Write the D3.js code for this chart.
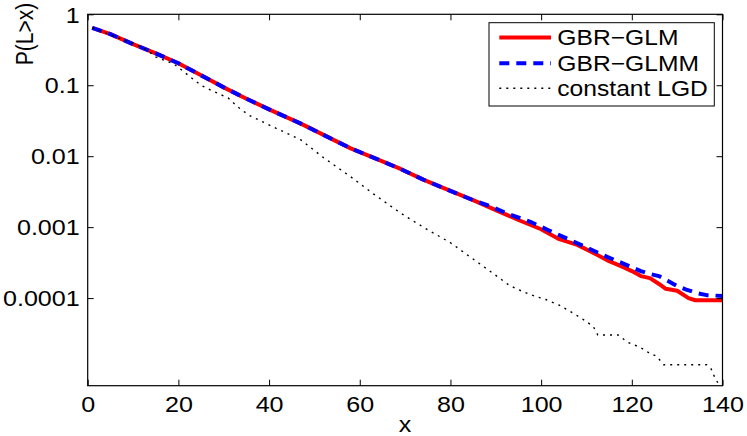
<!DOCTYPE html>
<html>
<head>
<meta charset="utf-8">
<script src="https://cdnjs.cloudflare.com/ajax/libs/d3/7.8.5/d3.min.js"></script>
<style>
  body { margin: 0; background: #fff; }
  text { font-family: "Liberation Sans", Arial, sans-serif; fill: #000; }
</style>
</head>
<body>
<script>
// Data (P(L>x) vs x)
var glmX = [1, 5, 10, 15, 20, 25, 30, 35, 40, 47, 52, 58, 63, 69, 74, 80, 85, 90, 95, 100,
            104, 108, 112, 115, 118, 120, 122, 124, 126, 127.5, 130, 132.5, 134, 140];
var glmP = [0.646, 0.525, 0.380, 0.282, 0.204, 0.138, 0.0933, 0.0646, 0.0457, 0.0288, 0.0200,
            0.0129, 0.00955, 0.00661, 0.00468, 0.00324, 0.00240, 0.00174, 0.00126, 0.000933,
            0.000676, 0.000562, 0.000417, 0.000331, 0.000275, 0.000240, 0.000204, 0.000191,
            0.000158, 0.000135, 0.000127, 0.000100, 0.0000933, 0.0000933];

var glmmX = [1, 5, 10, 15, 20, 25, 30, 35, 40, 47, 52, 58, 63, 69, 74, 80, 85, 89, 93, 97.5,
             101.5, 105.5, 109.5, 113.5, 118, 122, 124, 126, 128, 130, 132, 134.5, 136.5, 140];
var glmmP = [0.646, 0.525, 0.380, 0.282, 0.204, 0.138, 0.0933, 0.0646, 0.0457, 0.0288, 0.0200,
             0.0129, 0.00955, 0.00661, 0.00468, 0.00324, 0.00240, 0.00195, 0.00151, 0.00120,
             0.000912, 0.000700, 0.000537, 0.000407, 0.000309, 0.000240, 0.000219, 0.000204,
             0.000174, 0.000148, 0.000132, 0.000117, 0.000110, 0.000107];

var constX = [1, 5, 10, 13, 15, 19, 22, 25, 27.5, 31, 33, 35.5, 41, 47, 52, 58, 63, 69, 74, 80,
              85, 90, 93, 96, 98.5, 101, 104, 107, 109.5, 111.5, 112.5, 117, 119, 122, 124,
              125.5, 127, 136.5, 137.5, 138.5, 139.3];
var constP = [0.646, 0.513, 0.389, 0.316, 0.251, 0.200, 0.141, 0.100, 0.0832, 0.0661, 0.0501,
              0.0380, 0.0257, 0.0170, 0.00955, 0.00513, 0.00295, 0.00158, 0.00100, 0.000603,
              0.000355, 0.000209, 0.000151, 0.000123, 0.000107, 0.0000955, 0.0000794,
              0.0000617, 0.0000490, 0.0000398, 0.0000302, 0.0000302, 0.0000240, 0.0000200,
              0.0000166, 0.0000151, 0.0000115, 0.0000115, 0.0000100, 0.00000708, 0.00000603];

var xTicks = [0, 20, 40, 60, 80, 100, 120, 140];
var yTicks = [1, 0.1, 0.01, 0.001, 0.0001];
var yTickLabels = ['1', '0.1', '0.01', '0.001', '0.0001'];
var seriesNames = ['GBR\u2212GLM', 'GBR\u2212GLMM', 'constant LGD'];

// Layout
var margin = {top: 14.3, right: 24.5, bottom: 50.3, left: 87.7},
    W = 747, H = 436,
    width = W - margin.left - margin.right,
    height = H - margin.top - margin.bottom,
    textScale = 1.14,
    fontSize = 22;

var svg = d3.select('body').append('svg')
    .attr('width', W)
    .attr('height', H);

var wrap = svg.append('g')
    .attr('transform', 'translate(' + margin.left + ',' + margin.top + ')');

var x = d3.scaleLinear().domain([0, 140]).range([0, width]);
var y = d3.scaleLog().domain([Math.pow(10, -5.235), 1]).range([height, 0]);

wrap.append('clipPath').attr('id', 'clip')
    .append('rect').attr('width', width).attr('height', height);

// Series
var series = [
    {xs: glmX,   ps: glmP,   color: '#ff0000', width: 4,   dash: null},
    {xs: glmmX,  ps: glmmP,  color: '#0000ff', width: 4,   dash: '10,7'},
    {xs: constX, ps: constP, color: '#000000', width: 1.4, dash: '2,5'}
];

var line = d3.line()
    .x(function(d) { return x(d[0]); })
    .y(function(d) { return y(d[1]); });

var plot = wrap.append('g').attr('clip-path', 'url(#clip)');
series.forEach(function(s) {
    plot.append('path')
        .datum(d3.zip(s.xs, s.ps))
        .attr('d', line)
        .attr('fill', 'none')
        .attr('stroke', s.color)
        .attr('stroke-width', s.width)
        .attr('stroke-dasharray', s.dash)
        .attr('stroke-linejoin', 'round');
});

// Axes (ticks point inward, mirrored on top/right)
var tick = 6;
var xAxis = d3.axisBottom(x).tickValues(xTicks).tickSizeInner(-tick).tickSizeOuter(0);
var yAxis = d3.axisLeft(y).tickValues(yTicks).tickSizeInner(-tick).tickSizeOuter(0)
    .tickFormat(function(d, i) { return yTickLabels[i]; });

var gx = wrap.append('g').attr('transform', 'translate(0,' + height + ')').call(xAxis);
var gy = wrap.append('g').call(yAxis);
wrap.append('g').call(d3.axisTop(x).tickValues(xTicks).tickSizeInner(-tick).tickSizeOuter(0).tickFormat(''));
wrap.append('g').attr('transform', 'translate(' + width + ',0)')
    .call(d3.axisRight(y).tickValues(yTicks).tickSizeInner(-tick).tickSizeOuter(0).tickFormat(''));

wrap.selectAll('.domain').remove();
wrap.selectAll('.tick line').attr('stroke', '#000');
wrap.selectAll('.tick text')
    .style('font-family', '"Liberation Sans", Arial, sans-serif')
    .style('font-size', fontSize + 'px')
    .attr('fill', '#000');

gx.selectAll('.tick text').attr('dy', null).attr('y', 0)
    .attr('transform', 'translate(0,' + 26 + ') scale(' + textScale + ',1)');
gy.selectAll('.tick text').attr('x', 0).attr('dy', '0.35em')
    .attr('transform', 'translate(-8,0) scale(' + textScale + ',1)');

// Frame
wrap.append('rect')
    .attr('width', width).attr('height', height)
    .attr('fill', 'none').attr('stroke', '#000').attr('stroke-width', 1.2);

// Axis labels
svg.append('text')
    .attr('transform', 'translate(33,34) rotate(-90) scale(1,' + textScale + ')')
    .attr('text-anchor', 'middle')
    .style('font-size', '21px')
    .text('P(L>x)');

svg.append('text')
    .attr('transform', 'translate(405,432) scale(' + textScale + ',1)')
    .attr('text-anchor', 'middle')
    .style('font-size', fontSize + 'px')
    .text('x');

// Legend
var legend = svg.append('g');
legend.append('rect')
    .attr('x', 489).attr('y', 22.7)
    .attr('width', 225.3).attr('height', 83.3)
    .attr('fill', '#fff').attr('stroke', '#000').attr('stroke-width', 1);

var rowY = [37.5, 63.3, 88.3];
series.forEach(function(s, i) {
    legend.append('line')
        .attr('x1', 499.3).attr('x2', 551)
        .attr('y1', rowY[i]).attr('y2', rowY[i])
        .attr('stroke', s.color)
        .attr('stroke-width', s.width)
        .attr('stroke-dasharray', s.dash);
    legend.append('text')
        .attr('transform', 'translate(557.3,' + rowY[i] + ') scale(1.12,1)')
        .attr('dy', '0.36em')
        .style('font-size', fontSize + 'px')
        .text(seriesNames[i]);
});
</script>
</body>
</html>
